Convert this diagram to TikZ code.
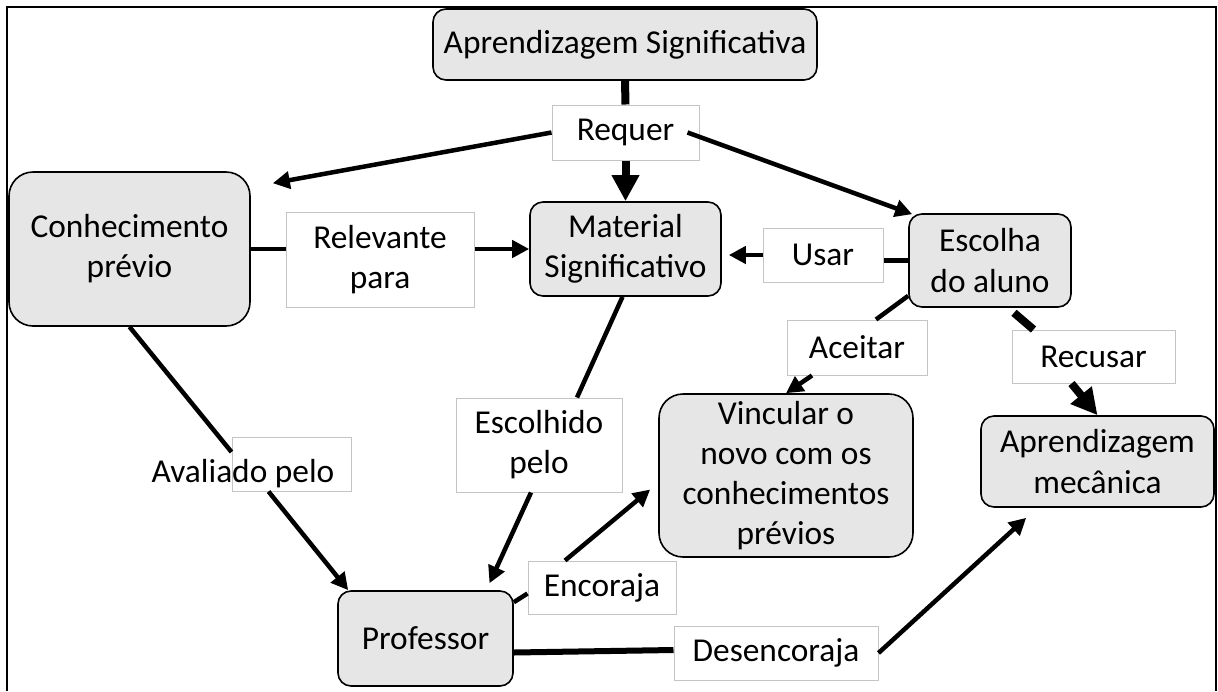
\documentclass[tikz,border=0pt]{standalone}
\usepackage{fontspec}
\setmainfont{Carlito}
\usetikzlibrary{arrows.meta}
\newlength{\unitpx}
\setlength{\unitpx}{0.02cm}
\definecolor{boxgray}{HTML}{E6E6E6}
\definecolor{linkgray}{HTML}{C4C4C4}
\tikzset{
 concept/.style={draw=black,line width=1.6\unitpx,fill=boxgray,rounded corners=13\unitpx,
  inner sep=0pt,align=center,font=\fontsize{19}{22.8}\selectfont},
 linkword/.style={draw=linkgray,line width=1\unitpx,fill=white,
  inner sep=0pt,align=center,font=\fontsize{19}{22.8}\selectfont},
 conn/.style={line width=4.5\unitpx,-{Triangle[length=9.7pt,width=9.7pt]}},
 boldconn/.style={line width=8\unitpx,-{Triangle[length=14.8pt,width=14.8pt]}},
}
\begin{document}
\begin{tikzpicture}[x=1\unitpx,y=-1\unitpx]
   \useasboundingbox (0,0) rectangle (1218,691);
   \draw[line width=2\unitpx] (7,691) -- (7,7) -- (1216,7) -- (1216,691);
   % concepts
   \node[concept,minimum width=384\unitpx,minimum height=71\unitpx] (as) at (625,44.5) {Aprendizagem Significativa};
   \node[concept,minimum width=241\unitpx,minimum height=154\unitpx,rounded corners=24\unitpx] (cp) at (129.5,249) {Conhecimento\\prévio};
   \node[concept,minimum width=191\unitpx,minimum height=94\unitpx] (ms) at (625.5,249) {Material\\Significativo};
   \node[concept,minimum width=162\unitpx,minimum height=93\unitpx] (ea) at (990,260.5) {Escolha\\do aluno};
   \node[concept,minimum width=254\unitpx,minimum height=163\unitpx,rounded corners=24\unitpx] (vinc) at (786,475.5) {Vincular o\\novo com os\\conhecimentos\\prévios};
   \node[concept,minimum width=233\unitpx,minimum height=91\unitpx] (am) at (1097.5,461.5) {Aprendizagem\\mecânica};
   \node[concept,minimum width=175\unitpx,minimum height=95\unitpx] (prof) at (425.5,638.5) {Professor};
   % linking words
   \node[linkword,minimum width=147\unitpx,minimum height=55\unitpx] (req) at (625.5,132.5) {Requer};
   \node[linkword,minimum width=188\unitpx,minimum height=95\unitpx] (rel) at (380,259.5) {Relevante\\para};
   \node[linkword,minimum width=120\unitpx,minimum height=54\unitpx] (usar) at (823,255) {Usar};
   \node[linkword,minimum width=140\unitpx,minimum height=55\unitpx] (acei) at (857,347.5) {Aceitar};
   \node[linkword,minimum width=163\unitpx,minimum height=53\unitpx] (recu) at (1093.5,356.5) {Recusar};
   \node[linkword,minimum width=166\unitpx,minimum height=94\unitpx] (esc) at (539,445) {Escolhido\\pelo};
   \node[linkword,minimum width=119\unitpx,minimum height=54\unitpx] (avb) at (291.5,464) {};
   \node[inner sep=0pt,font=\fontsize{19}{22.8}\selectfont] (avt) at (243,474) {Avaliado pelo};
   \node[linkword,minimum width=148\unitpx,minimum height=53\unitpx] (enc) at (602,587.5) {Encoraja};
   \node[linkword,minimum width=204\unitpx,minimum height=54\unitpx] (des) at (776,653) {Desencoraja};
   % connectors
   \draw[boldconn,-] (as.south) -- (req.north);
   \draw[boldconn] (req.south) -- (ms.north);
   \draw[conn] (req.west) -- ([shift={(22,12)}]cp.north east);
   \draw[conn] ([shift={(-12,0)}]req.east) -- ([shift={(4,1)}]ea.north west);
   \draw[conn,-] (cp.east) -- (cp.east -| rel.west);
   \draw[conn] (rel.east |- ms.west) -- (ms.west);
   \draw[conn,-] (ea.west) -- (ea.west -| usar.east);
   \draw[conn,shorten >=7\unitpx] (usar.west) -- (ms.east |- usar.west);
   \draw[conn,-] ([shift={(0,-12)}]ea.south west) -- ([shift={(19,0)}]acei.north);
   \draw[conn] ([shift={(-45,0)}]acei.south) -- (vinc.north);
   \draw[boldconn,-] ([shift={(24,5)}]ea.south) -- ([shift={(-60,0)}]recu.north);
   \draw[boldconn] ([shift={(-22,0)}]recu.south) -- (am.north);
   \draw[conn,-] (cp.south) -- ([shift={(0,-12)}]avb.west);
   \draw[conn] ([shift={(-23,0)}]avb.south) -- ([shift={(11,0)}]prof.north west);
   \draw[conn,-] ([shift={(-3,0)}]ms.south) -- ([shift={(38,0)}]esc.north);
   \draw[conn] ([shift={(-8,0)}]esc.south) -- ([shift={(64,-7)}]prof.north);
   \draw[conn,-] ([shift={(0,12)}]prof.north east) -- ([shift={(0,6)}]enc.west);
   \draw[conn] ([shift={(-37,0)}]enc.north) -- ([shift={(-8,14)}]vinc.west);
   \draw[conn,-,line width=6\unitpx] ([shift={(0,14)}]prof.east) -- ([shift={(0,-3)}]des.west);
   \draw[conn] (des.east) -- ([shift={(46,10)}]am.south west);
\end{tikzpicture}
\end{document}
